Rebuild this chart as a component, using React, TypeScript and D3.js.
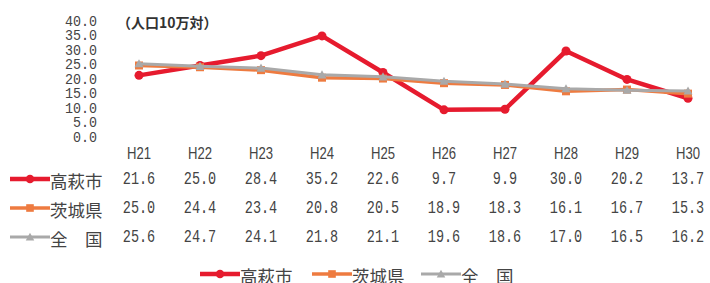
import * as d3 from "d3";

const years = ["H21", "H22", "H23", "H24", "H25", "H26", "H27", "H28", "H29", "H30"];
const takahagi = [21.6, 25.0, 28.4, 35.2, 22.6, 9.7, 9.9, 30.0, 20.2, 13.7];
const ibaraki = [25.0, 24.4, 23.4, 20.8, 20.5, 18.9, 18.3, 16.1, 16.7, 15.3];
const zenkoku = [25.6, 24.7, 24.1, 21.8, 21.1, 19.6, 18.6, 17.0, 16.5, 16.2];
const yTicks = [0, 5, 10, 15, 20, 25, 30, 35, 40];

type Marker = "circle" | "square" | "triangle";

const seriesList: { name: string; values: number[]; color: string; width: number; marker: Marker }[] = [
  { name: "高萩市", values: takahagi, color: "#e61b2e", width: 4.5, marker: "circle" },
  { name: "茨城県", values: ibaraki, color: "#ee7b40", width: 3.5, marker: "square" },
  { name: "全\u3000国", values: zenkoku, color: "#a9a9a9", width: 3, marker: "triangle" },
];

const W = 710;
const H = 283;
const textColor = "#444";
const numFont = "'Liberation Mono', 'DejaVu Sans Mono', monospace";
const jpFont = "'Noto Sans CJK JP', 'Noto Sans', sans-serif";

const fmt = d3.format(".1f");

function drawMarker(kind: Marker, x: number, y: number, color: string, size = 1) {
  if (kind === "circle") return <circle cx={x} cy={y} r={4.5 * size} fill={color} />;
  if (kind === "square")
    return <rect x={x - 4 * size} y={y - 4 * size} width={8 * size} height={8 * size} fill={color} />;
  const s = 4.5 * size;
  return <path d={`M${x},${y - s}L${x + s},${y + s * 0.8}L${x - s},${y + s * 0.8}Z`} fill={color} />;
}

function LegendKey({ x, y, s }: { x: number; y: number; s: (typeof seriesList)[number] }) {
  return (
    <g>
      <line x1={x} x2={x + 40} y1={y} y2={y} stroke={s.color} strokeWidth={s.width} />
      {drawMarker(s.marker, x + 20, y, s.color, 0.95)}
    </g>
  );
}

export default function App() {
  const x = d3.scalePoint<string>().domain(years).range([139, 688]);
  const y = d3.scaleLinear().domain([0, 40]).range([138, 22]);
  const line = d3
    .line<number>()
    .x((_, i) => x(years[i]) ?? 0)
    .y((d) => y(d));

  const rowY = [179, 208, 237];
  const legendX = [200, 312, 421];

  return (
    <svg width={W} height={H} style={{ position: "absolute", left: 0, top: 0, background: "#fff" }}>
      {/* y axis labels */}
      {yTicks.map((t) => {
        const label = fmt(t);
        return (
          <text
            key={t}
            x={97}
            y={y(t)}
            textAnchor="end"
            dominantBaseline="central"
            fontFamily={numFont}
            fontSize={15}
            fill={textColor}
            textLength={label.length * 8}
            lengthAdjust="spacingAndGlyphs"
          >
            {label}
          </text>
        );
      })}
      <text x={117} y={22} fontFamily={jpFont} fontWeight="bold" fontSize={14} fill="#333" dominantBaseline="central">
        （人口10万対）
      </text>

      {/* lines */}
      {seriesList.map((s) => (
        <g key={s.name}>
          <path d={line(s.values) ?? ""} fill="none" stroke={s.color} strokeWidth={s.width} strokeLinejoin="round" />
          {s.values.map((v, i) => (
            <g key={i}>{drawMarker(s.marker, x(years[i]) ?? 0, y(v), s.color)}</g>
          ))}
        </g>
      ))}

      {/* data table header */}
      {years.map((yr) => (
        <text
          key={yr}
          x={x(yr)}
          y={153}
          textAnchor="middle"
          dominantBaseline="central"
          fontFamily="'Liberation Sans', Arial, sans-serif"
          fontSize={16}
          fill={textColor}
          textLength={24}
          lengthAdjust="spacingAndGlyphs"
        >
          {yr}
        </text>
      ))}

      {/* data table rows */}
      {seriesList.map((s, r) => (
        <g key={s.name}>
          <LegendKey x={10} y={rowY[r]} s={s} />
          <text x={50} y={rowY[r] + 1} dominantBaseline="central" fontFamily={jpFont} fontSize={17.5} fill={textColor}>
            {s.name}
          </text>
          {s.values.map((v, i) => {
            const label = fmt(v);
            return (
              <text
                key={i}
                x={x(years[i])}
                y={rowY[r]}
                textAnchor="middle"
                dominantBaseline="central"
                fontFamily={numFont}
                fontSize={18}
                fill={textColor}
                textLength={label.length * 8.1}
                lengthAdjust="spacingAndGlyphs"
              >
                {label}
              </text>
            );
          })}
        </g>
      ))}

      {/* bottom legend */}
      {seriesList.map((s, i) => (
        <g key={s.name}>
          <LegendKey x={legendX[i]} y={274} s={s} />
          <text x={legendX[i] + 40} y={275} dominantBaseline="central" fontFamily={jpFont} fontSize={17.5} fill={textColor}>
            {s.name}
          </text>
        </g>
      ))}
    </svg>
  );
}
